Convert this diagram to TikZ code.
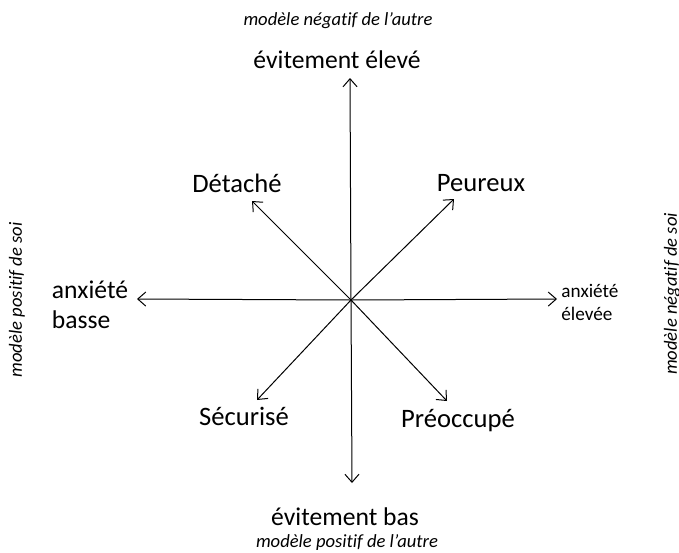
\documentclass[tikz,border=0pt]{standalone}
\usepackage{fontspec}
\setmainfont[Ligatures={NoCommon}]{Carlito}
\usetikzlibrary{positioning,arrows.meta}
\begin{document}
\begin{tikzpicture}
    [x=0.5pt, y=-0.5pt,
    axis/.style={line width=0.5pt, -{Straight Barb[length=4pt,width=7pt]}},
    style/.style={font=\fontsize{13.3}{15}\selectfont, inner sep=0pt},
    pole/.style={font=\fontsize{12.8}{15}\selectfont, inner sep=0pt, align=left},
    small/.style={font=\fontsize{9.6}{11.5}\selectfont, inner sep=0pt, align=left},
    model/.style={font=\fontsize{9.3}{11}\selectfont\itshape, inner sep=0pt}]
  \useasboundingbox (0,0) rectangle (679,552);

  % centre and axis ends
  \coordinate (o) at (351,300);
  \coordinate (top) at (350,78);
  \coordinate (bot) at (352,483);
  \coordinate (left) at (137,299);
  \coordinate (right) at (557,299);
  \coordinate (det) at (252,201);
  \coordinate (peu) at (454,199);
  \coordinate (sec) at (257,400);
  \coordinate (pre) at (447,401);

  % axes
  \draw [axis] (o) -- (top);
  \draw [axis] (o) -- (bot);
  \draw [axis] (o) -- (left);
  \draw [axis] (o) -- (right);
  \draw [axis] (o) -- (det);
  \draw [axis] (o) -- (peu);
  \draw [axis] (o) -- (sec);
  \draw [axis] (o) -- (pre);

  % labels
  \node [pole] (high) at (337,60) {évitement élevé};
  \node [model] (negother) at (338,21) {modèle négatif de l’autre};
  \node [pole] (low) at (345,517) {évitement bas};
  \node [model] (posother) at (347,543) {modèle positif de l’autre};
  \node [pole] (lowanx) at (90,305) {anxiété\\ basse};
  \node [small, anchor=west] (highanx) at (561,302) {anxiété\\ élevée};
  \node [model, rotate=90] (posself) at (17,300) {modèle positif de soi};
  \node [model, rotate=90] (negself) at (672,294) {modèle négatif de soi};

  \node [style] (detache) at (237,183) {Détaché};
  \node [style] (peureux) at (481,183) {Peureux};
  \node [style] (securise) at (244,416) {Sécurisé};
  \node [style] (preoccupe) at (458,421) {Préoccupé};
\end{tikzpicture}
\end{document}
